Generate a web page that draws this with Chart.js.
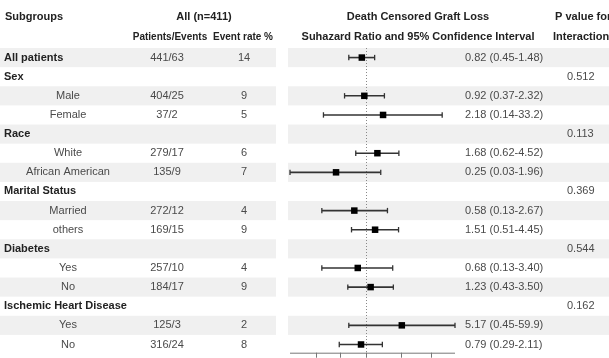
<!DOCTYPE html>
<html>
<head>
<meta charset="utf-8">
<script src="https://cdn.jsdelivr.net/npm/chart.js@4/dist/chart.umd.min.js"></script>
<style>
  html, body { margin: 0; padding: 0; background: #fff; overflow: hidden; }
  canvas { display: block; }
</style>
</head>
<body>
<canvas id="forest" width="609" height="358"></canvas>
<script>
// Subgroup table rows (top to bottom)
const subgroups = ['All patients', 'Sex', 'Male', 'Female', 'Race', 'White', 'African American',
  'Marital Status', 'Married', 'others', 'Diabetes', 'Yes', 'No', 'Ischemic Heart Disease', 'Yes', 'No'];
const isHeading = [true, true, false, false, true, false, false, true, false, false, true, false, false, true, false, false];
const patientsEvents = ['441/63', '', '404/25', '37/2', '', '279/17', '135/9', '', '272/12', '169/15', '', '257/10', '184/17', '', '125/3', '316/24'];
const eventRates = ['14', '', '9', '5', '', '6', '7', '', '4', '9', '', '4', '9', '', '2', '8'];

// Subhazard ratios with 95% confidence limits
const ratio  = [0.82, null, 0.92, 2.18, null, 1.68, 0.25, null, 0.58, 1.51, null, 0.68, 1.23, null, 5.17, 0.79];
const ciLow  = [0.45, null, 0.37, 0.14, null, 0.62, 0.03, null, 0.13, 0.51, null, 0.13, 0.43, null, 0.45, 0.29];
const ciHigh = [1.48, null, 2.32, 33.2, null, 4.52, 1.96, null, 2.67, 4.45, null, 3.40, 3.50, null, 59.9, 2.11];
const pInteraction = ['', '0.512', '', '', '0.113', '', '', '0.369', '', '', '0.544', '', '', '0.162', '', ''];

// Ratio axis
const axisMin = 0.03;
const axisMax = 59.9;
const axisTicks = [0.1, 0.3, 1, 5, 20];

const FONT = "'Liberation Sans', Arial, Helvetica, sans-serif";
const fmt = v => (v >= 10 ? v.toFixed(1) : v.toFixed(2));
const rowIdx = subgroups.map((_, i) => i);
const estRows = rowIdx.filter(i => ratio[i] !== null);

const whiskerSets = estRows.map(i => ({
  type: 'scatter',
  showLine: true,
  data: [{ x: ciLow[i], y: i }, { x: ciHigh[i], y: i }],
  borderColor: '#333',
  borderWidth: 1.6,
  pointStyle: 'line',
  rotation: 90,
  pointRadius: 2.7,
  pointBorderColor: '#333',
  pointBorderWidth: 1.3,
  clip: false,
  order: 2
}));

const squareSet = {
  type: 'scatter',
  data: estRows.map(i => ({ x: ratio[i], y: i })),
  pointStyle: 'rect',
  pointRadius: 4.6,
  backgroundColor: '#000',
  borderColor: '#000',
  borderWidth: 0,
  clip: false,
  order: 1
};

const tablePlugin = {
  id: 'forestTable',
  beforeDraw(chart) {
    const { ctx, scales: { y } } = chart;
    ctx.save();
    ctx.fillStyle = '#f0f0f0';
    rowIdx.forEach(i => {
      if (i % 2 !== 0) return;
      const top = y.getPixelForValue(i - 0.5);
      const h = y.getPixelForValue(i + 0.5) - top;
      ctx.fillRect(0, top, 276, h);
      ctx.fillRect(288, top, chart.width - 288, h);
    });
    ctx.restore();
  },
  beforeDatasetsDraw(chart) {
    const { ctx, chartArea: a, scales: { x } } = chart;
    ctx.save();
    // no-effect reference line
    const x1 = Math.round(x.getPixelForValue(1)) + 0.5;
    ctx.strokeStyle = '#888';
    ctx.lineWidth = 1;
    ctx.setLineDash([1, 2]);
    ctx.beginPath();
    ctx.moveTo(x1, a.top);
    ctx.lineTo(x1, a.bottom);
    ctx.stroke();
    ctx.setLineDash([]);
    // ratio axis line with ticks
    ctx.strokeStyle = '#777';
    ctx.beginPath();
    ctx.moveTo(a.left, a.bottom + 0.5);
    ctx.lineTo(a.right, a.bottom + 0.5);
    axisTicks.forEach(t => {
      const tx = Math.round(x.getPixelForValue(t)) + 0.5;
      ctx.moveTo(tx, a.bottom);
      ctx.lineTo(tx, a.bottom + 5);
    });
    ctx.stroke();
    ctx.restore();
  },
  afterDatasetsDraw(chart) {
    const { ctx, scales: { y } } = chart;
    ctx.save();
    ctx.textBaseline = 'middle';

    // column headers
    ctx.fillStyle = '#222';
    ctx.font = `bold 11px ${FONT}`;
    ctx.textAlign = 'left';
    ctx.fillText('Subgroups', 5, 17);
    ctx.fillText('P value for', 555, 17);
    ctx.fillText('Interaction', 553, 37);
    ctx.textAlign = 'center';
    ctx.fillText('All (n=411)', 204, 17);
    ctx.fillText('Death Censored Graft Loss', 418, 17);
    ctx.fillText('Suhazard Ratio and 95% Confidence Interval', 418, 37);
    ctx.font = `bold 10px ${FONT}`;
    ctx.fillText('Patients/Events', 170, 37);
    ctx.fillText('Event rate %', 243, 37);

    rowIdx.forEach(i => {
      const ry = y.getPixelForValue(i);
      if (isHeading[i]) {
        ctx.font = `bold 11px ${FONT}`;
        ctx.fillStyle = '#222';
        ctx.textAlign = 'left';
        ctx.fillText(subgroups[i], 4, ry);
      } else {
        ctx.font = `11px ${FONT}`;
        ctx.fillStyle = '#4a4a4a';
        ctx.textAlign = 'center';
        ctx.fillText(subgroups[i], 68, ry);
      }
      ctx.font = `11px ${FONT}`;
      ctx.fillStyle = '#4a4a4a';
      ctx.textAlign = 'center';
      if (patientsEvents[i]) ctx.fillText(patientsEvents[i], 167, ry);
      if (eventRates[i]) ctx.fillText(eventRates[i], 244, ry);
      ctx.textAlign = 'left';
      if (ratio[i] !== null) {
        ctx.fillText(`${fmt(ratio[i])} (${fmt(ciLow[i])}-${fmt(ciHigh[i])})`, 465, ry);
      }
      if (pInteraction[i]) ctx.fillText(pInteraction[i], 567, ry);
    });
    ctx.restore();
  }
};

new Chart(document.getElementById('forest'), {
  type: 'scatter',
  data: { datasets: [squareSet, ...whiskerSets] },
  options: {
    responsive: false,
    devicePixelRatio: 1,
    animation: false,
    events: [],
    layout: { padding: { left: 290, right: 154, top: 48, bottom: 1 } },
    plugins: { legend: { display: false }, tooltip: { enabled: false } },
    scales: {
      x: { type: 'logarithmic', min: axisMin, max: axisMax, display: false },
      y: { type: 'linear', min: -0.5, max: 15.43, reverse: true, display: false }
    }
  },
  plugins: [tablePlugin]
});
</script>
</body>
</html>
